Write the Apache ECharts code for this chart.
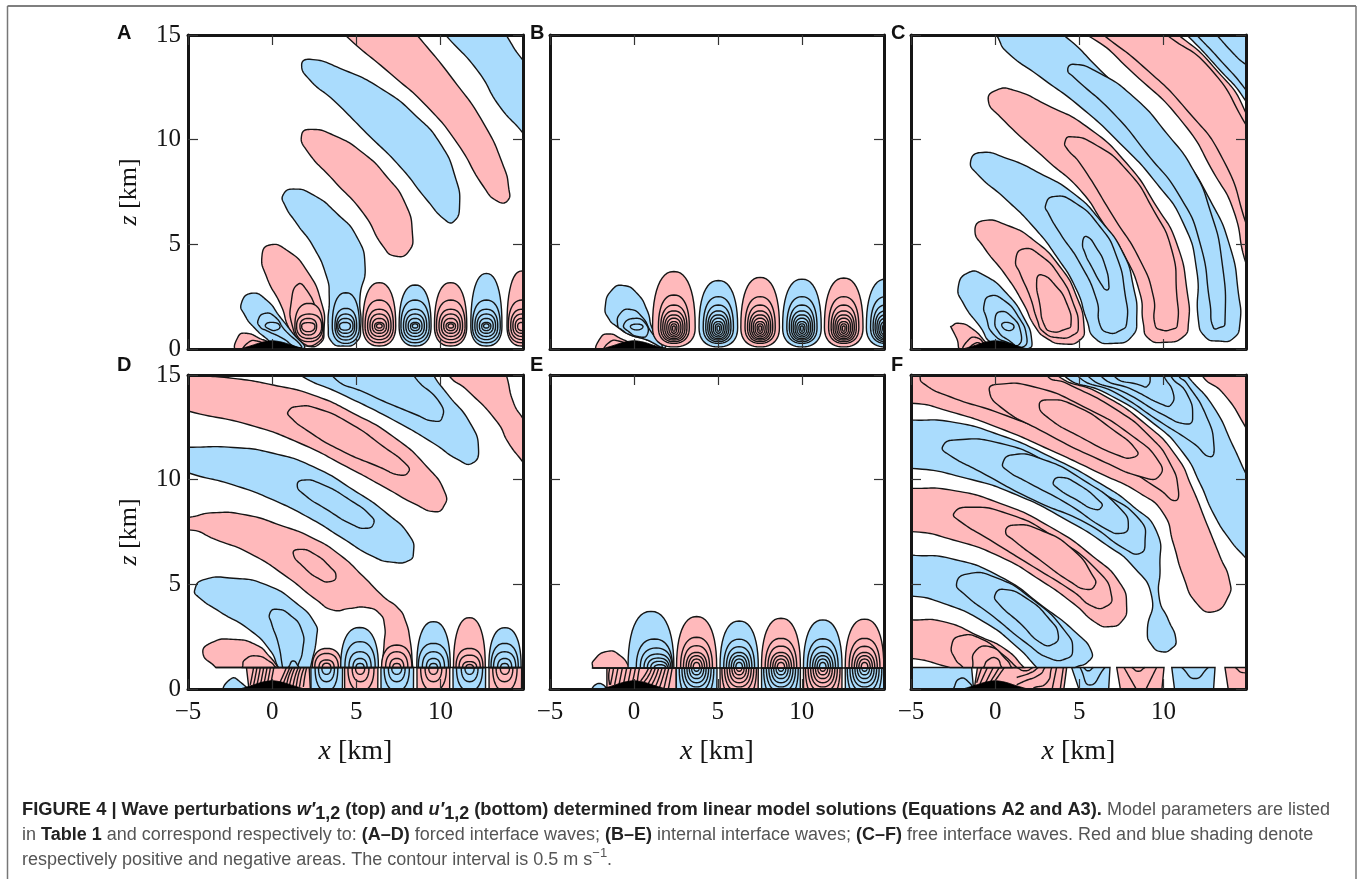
<!DOCTYPE html>
<html><head><meta charset="utf-8">
<style>html,body{margin:0;padding:0;background:#fff}#c{width:1360px;height:879px}</style>
<script src="https://cdn.jsdelivr.net/npm/echarts@6/dist/echarts.min.js"></script>
</head><body><div id="c"></div>
<script>
// ---- values (x km, z km); sign: 1 red, -1 blue, 0 line only
const xTicks = [-5, 0, 5, 10];
const zTicks = [0, 5, 10, 15];
const panelLetters = ['A','B','C','D','E','F'];
const terrain = [[-2.1,-.05],[-1.7,.05],[-1.2,.17],[-.7,.3],[-.3,.37],[0,.39],[.3,.37],[.7,.3],[1.2,.17],[1.7,.05],[2.1,-.05]];

// Panel A
const aFree = [
 [-1,[[9.3,16],[10.3,15],[12.2,13.3],[13.5,11.6],[15,10.2],[16,8.9],[17,12],[15,13.7],[13.9,15],[13,16.3]]],
 [1,[[3.5,15.8],[4.33,15],[7,13.17],[9.2,11.58],[11,9.82],[12.56,7.75],[13.4,7.05],[14,7.1],[14.05,7.7],[13.75,8.71],[12.56,10.78],[10.77,12.85],[8.6,15],[7.5,16]]],
 [-1,[[1.75,13.57],[2.24,13.84],[4.03,13.41],[6.61,12.37],[8.59,11.1],[9.98,9.82],[10.87,8.23],[11.13,6.8],[10.77,6.08],[10.28,6.16],[9.19,7.12],[7.6,8.71],[5.62,10.3],[3.63,11.89],[2.24,12.85]]],
 [1,[[1.75,10.22],[2.24,10.49],[3.63,10.22],[5.42,9.35],[6.81,8.23],[7.9,6.96],[8.33,5.53],[8.1,4.65],[7.3,4.44],[6.6,4.89],[5.42,6.48],[3.63,8.07],[2.04,9.5]]],
 [-1,[[.65,7.36],[1.25,7.64],[2.44,7.36],[3.83,6.48],[5.02,5.37],[5.52,3.93],[5.22,2.5],[5.26,1.07],[5.02,.35],[4.23,.14],[3.53,.35],[3.33,1.07],[3.39,2.5],[3.23,3.46],[2.44,4.89],[1.45,6],[.75,6.88]]],
 [1,[[-.6,4.49],[-.14,4.97],[.85,4.73],[2.04,3.77],[2.94,2.18],[3.08,.91],[2.84,.27],[2.04,.14],[1.45,.43],[.95,1.07],[.56,2.02],[-.34,3.46]]],
 [1,[[1.15,2.34],[1.55,3.1],[2.04,2.82],[2.64,1.86],[3.04,.91],[2.64,.27],[1.85,.27],[1.21,1.07]]],
 [-1,[[-1.83,2.18],[-1.23,2.66],[-.34,2.34],[.46,1.54],[1.15,.83],[1.88,.03],[.06,.27],[-.34,.5],[-1.03,.99],[-1.63,1.62]]],
 [-1,[[-.83,1.39],[-.44,1.7],[.16,1.54],[.75,.91],[1.75,.11],[1.35,.11],[.65,.5],[-.34,.88],[-.73,1.07]]],
 [-1,[[-.4,1.15],[.06,1.27],[.46,1.1],[.26,.91],[-.14,.94]]],
 [1,[[-2.08,-.1],[-2.02,.59],[-1.53,.75],[-.73,.5],[-.24,.27],[-.3,-.1]]],
 [1,[[-1.7,-.1],[-1.4,.32],[-.9,.38],[-.5,.18],[-.6,-.1]]]
];
const aLobes = [
 [1,1.35,3,.35,1.1,2.18],[1,1.45,2.94,.5,1.1,1.67],[1,1.65,2.64,.67,1.1,1.46],[1,1.75,2.54,.83,1.1,1.26],
 [-1,3.57,5.18,.27,1.1,2.69],[-1,3.73,5.02,.43,1.1,1.94],[-1,3.83,4.9,.58,1.1,1.67],[-1,3.9,4.8,.75,1.1,1.46],[-1,4,4.65,.9,1.1,1.27],
 [1,5.38,7.34,.14,1.1,3.17],[1,5.52,7.2,.3,1.1,2.34],[1,5.67,7.06,.45,1.1,1.9],[1,5.81,6.92,.6,1.1,1.67],[1,5.95,6.79,.75,1.1,1.46],[1,6.09,6.65,.88,1.1,1.27],[1,6.2,6.53,1,1.1,1.2],
 [-1,7.54,9.44,.14,1.1,3.06],[-1,7.65,9.33,.3,1.1,2.34],[-1,7.8,9.18,.45,1.1,1.9],[-1,7.94,9.04,.6,1.1,1.67],[-1,8.08,8.9,.75,1.1,1.46],[-1,8.22,8.76,.88,1.1,1.27],[-1,8.33,8.65,1,1.1,1.2],
 [1,9.64,11.56,.14,1.1,3.17],[1,9.76,11.46,.3,1.1,2.34],[1,9.91,11.31,.45,1.1,1.9],[1,10.05,11.17,.6,1.1,1.67],[1,10.19,11.03,.75,1.1,1.46],[1,10.33,10.89,.88,1.1,1.27],[1,10.45,10.77,1,1.1,1.2],
 [-1,11.8,13.65,.14,1.1,3.61],[-1,11.9,13.55,.3,1.1,2.34],[-1,12.04,13.4,.45,1.1,1.9],[-1,12.17,13.27,.6,1.1,1.67],[-1,12.31,13.13,.75,1.1,1.46],[-1,12.45,12.99,.88,1.1,1.27],[-1,12.56,12.88,1,1.1,1.2],
 [1,13.95,15.73,.14,1.1,3.73],[1,14.03,15.65,.3,1.1,2.34],[1,14.17,15.51,.45,1.1,1.9],[1,14.3,15.38,.6,1.1,1.67],[1,14.44,15.24,.75,1.1,1.46],[1,14.58,15.1,.88,1.1,1.27]
];

// Panel B
const bFree = [
 [-1,[[-1.71,2.02],[-1.31,2.82],[-.61,3.03],[.18,2.66],[.78,1.86],[1.14,.91],[1.88,.08],[.58,.5],[-.21,.67],[-1.01,1.07],[-1.51,1.46]]],
 [-1,[[-.97,1.15],[-.81,1.7],[-.21,1.89],[.48,1.54],[1.02,.83],[1.68,.11],[.78,.43],[-.21,.67],[-.71,.91]]],
 [-1,[[-.61,1.15],[-.01,1.46],[.68,1.23],[.78,.67],[.28,.59],[-.31,.83]]],
 [-1,[[-.21,1.07],[.18,1.19],[.54,1.07],[.18,.91]]],
 [1,[[-2.15,-.1],[-2.01,.51],[-1.51,.72],[-.81,.51],[-.21,.19],[-.3,-.1]]],
 [1,[[-1.75,-.1],[-1.41,.35],[-.91,.38],[-.51,.19],[-.6,-.1]]]
];
const bLobes = [
 [1,1.11,3.65,.1,1.03,3.7],[1,1.46,3.3,.27,1.03,2.58],[1,1.6,3.16,.35,1.03,2.1],[1,1.72,3.04,.43,1.03,1.82],[1,1.84,2.92,.5,1.03,1.63],[1,1.96,2.8,.58,1.03,1.47],[1,2.08,2.68,.66,1.03,1.31],[1,2.2,2.56,.75,1.03,1.2],[1,2.3,2.46,.85,1.03,1.1],
 [-1,3.88,6.18,.1,1.03,3.27],[-1,4.13,5.93,.27,1.03,2.5],[-1,4.28,5.78,.35,1.03,2.1],[-1,4.4,5.66,.43,1.03,1.82],[-1,4.51,5.55,.5,1.03,1.63],[-1,4.62,5.44,.58,1.03,1.47],[-1,4.73,5.33,.66,1.03,1.31],[-1,4.85,5.21,.75,1.03,1.2],[-1,4.95,5.11,.85,1.03,1.1],
 [1,6.37,8.67,.1,1.03,3.42],[1,6.62,8.42,.27,1.03,2.5],[1,6.77,8.27,.35,1.03,2.1],[1,6.89,8.15,.43,1.03,1.82],[1,7,8.04,.5,1.03,1.63],[1,7.11,7.93,.58,1.03,1.47],[1,7.22,7.82,.66,1.03,1.31],[1,7.34,7.7,.75,1.03,1.2],[1,7.44,7.6,.85,1.03,1.1],
 [-1,8.86,11.16,.1,1.03,3.34],[-1,9.11,10.91,.27,1.03,2.5],[-1,9.26,10.76,.35,1.03,2.1],[-1,9.38,10.64,.43,1.03,1.82],[-1,9.49,10.53,.5,1.03,1.63],[-1,9.6,10.42,.58,1.03,1.47],[-1,9.71,10.31,.66,1.03,1.31],[-1,9.83,10.19,.75,1.03,1.2],[-1,9.93,10.09,.85,1.03,1.1],
 [1,11.35,13.65,.1,1.03,3.39],[1,11.6,13.4,.27,1.03,2.5],[1,11.75,13.25,.35,1.03,2.1],[1,11.87,13.13,.43,1.03,1.82],[1,11.98,13.02,.5,1.03,1.63],[1,12.09,12.91,.58,1.03,1.47],[1,12.2,12.8,.66,1.03,1.31],[1,12.32,12.68,.75,1.03,1.2],[1,12.42,12.58,.85,1.03,1.1],
 [-1,13.85,16.15,.1,1.03,3.34],[-1,14.1,15.9,.27,1.03,2.5],[-1,14.25,15.75,.35,1.03,2.1],[-1,14.37,15.63,.43,1.03,1.82],[-1,14.48,15.52,.5,1.03,1.63],[-1,14.59,15.41,.58,1.03,1.47],[-1,14.7,15.3,.66,1.03,1.31],[-1,14.82,15.18,.75,1.03,1.2]
];

// Panel C
const cFree = [
 [1,[[3,15.6],[5.44,15],[8.21,13.17],[11.18,10.78],[13,8.39],[14.15,6.64],[14.9,4.09],[16,2],[17,6],[14.9,11.26],[12.96,13.49],[10.88,15],[9,16]]],
 [0,[[6.43,15],[8.8,13.49],[11.38,11.42],[13.55,9.03],[14.9,6],[15.6,4]]],
 [0,[[10.19,15],[12.76,13.41],[14.9,10.7],[16,9]]],
 [-1,[[10.5,15.6],[11.38,15],[13.16,13.49],[14.9,11.83],[16,10],[17,17]]],
 [0,[[11.97,15],[13.36,13.81],[14.9,12.37],[16,11]]],
 [0,[[13.16,15],[14.15,14.12],[14.74,13.68],[16,13]]],
 [-1,[[0,15.3],[.19,14.84],[.68,14.2],[2.66,13.01],[5.04,11.58],[7.42,9.82],[9.59,7.91],[11.18,6],[11.97,3.77],[12.07,1.39],[12.47,.59],[13.26,.38],[14.15,.51],[14.54,1.23],[14.45,2.66],[13.95,4.89],[12.76,7.12],[10.98,9.35],[8.6,11.42],[6.23,13.33],[4.05,15],[2,16]]],
 [-1,[[4.31,13.33],[4.64,13.6],[6.03,13.25],[8.21,12.05],[10.19,10.3],[11.77,8.55],[12.76,6.64],[13.46,4.25],[13.65,1.23],[13.36,1.03],[12.96,1.03],[12.76,2.18],[12.17,5.05],[10.98,7.28],[9,9.35],[7.02,11.26],[4.64,13.01]]],
 [1,[[-.41,11.89],[.09,12.37],[1.08,12.37],[3.06,11.66],[5.44,10.62],[7.81,8.87],[9.59,6.8],[10.78,5.05],[11.42,2.66],[11.48,1.23],[11.18,.59],[10.09,.32],[9.1,.51],[8.8,1.23],[8.6,2.66],[7.61,4.57],[6.43,6],[5.04,7.6],[3.06,9.03],[.29,11.1]]],
 [1,[[4.15,9.9],[4.45,10.14],[5.83,9.82],[7.81,8.55],[9.4,6.64],[10.49,4.73],[10.78,2.66],[10.82,1.15],[10.49,.94],[9.89,.91],[9.5,1.15],[9.4,2.5],[8.6,4.25],[7.02,6.32],[5.04,8.87],[4.25,9.59]]],
 [-1,[[-1.46,8.95],[-.9,9.38],[.68,9.11],[2.66,8.39],[4.64,7.44],[6.23,6.16],[7.61,4.57],[8.21,2.98],[8.41,1.54],[8.11,.59],[7.02,.27],[5.93,.51],[5.44,1.39],[4.84,2.82],[3.65,4.41],[2.27,5.84],[.68,7.12],[-1.1,8.39]]],
 [-1,[[3,6.88],[3.46,7.28],[4.64,7.04],[6.23,5.84],[7.22,4.41],[7.71,2.66],[7.81,1.23],[7.42,.88],[6.72,.78],[6.23,1.15],[6.03,2.34],[5.04,4.09],[3.85,5.53],[3.16,6.48]]],
 [-1,[[5.2,5.13],[5.44,5.37],[6.03,4.81],[6.52,4.01],[6.76,2.98],[6.62,2.82],[6.33,3.06],[5.73,3.93],[5.34,4.57]]],
 [1,[[-1.2,5.68],[-.7,6.13],[.68,5.92],[2.27,5.21],[3.85,3.93],[4.84,2.5],[5.28,1.07],[5.04,.43],[4.05,.24],[3.06,.51],[2.37,1.07],[1.67,2.18],[.68,3.46],[-.7,4.89]]],
 [1,[[1.22,4.25],[1.67,4.78],[2.66,4.49],[3.85,3.46],[4.64,2.18],[4.94,1.07],[4.64,.67],[3.75,.54],[2.86,.83],[2.5,1.39],[2.07,2.5],[1.48,3.61]]],
 [1,[[2.47,3.3],[2.76,3.54],[3.55,3.06],[4.25,2.18],[4.5,1.15],[4.15,.94],[3.36,.83],[2.92,1.15],[2.66,2.1]]],
 [-1,[[-2.19,2.98],[-1.59,3.65],[-.7,3.54],[.68,2.66],[1.77,1.39],[2.17,.43],[1.97,.03],[-.11,.27],[-.9,1.07],[-1.89,2.18]]],
 [-1,[[-.66,2.1],[-.31,2.53],[.49,2.34],[1.38,1.54],[1.87,.59],[1.67,.11],[.88,.27],[-.11,.72],[-.54,1.54]]],
 [-1,[[-.01,1.39],[.29,1.78],[.98,1.54],[1.51,.83],[1.38,.19],[.78,.43],[.19,.83]]],
 [-1,[[.39,1.15],[.72,1.27],[1.12,1.07],[.78,.88]]],
 [1,[[-2.64,1.07],[-2.64,1.07],[-2.19,1.23],[-1.4,.99],[-.5,.27],[-.1,-.1],[-1.95,-.1],[-2.29,.51]]],
 [1,[[-1.85,-.1],[-1.59,.43],[-1.1,.54],[-.6,.19],[-.4,-.1]]],
 [1,[[-1.55,-.1],[-1.2,.27],[-.8,.19],[-.8,-.1]]]
];

// Panel D
const dInterface = [[-3.35,1.03],[15.5,1.03]];
const dFree = [
 [1,[[-6,15.1],[-5,15],[-2.32,14.84],[.06,14.52],[2.44,14.04],[4.82,13.17],[7.2,12.05],[9.19,10.62],[10.28,9.35],[10.18,8.71],[9.68,8.47],[8.59,8.79],[6.61,9.67],[4.42,10.62],[1.65,11.74],[-1.33,12.61],[-5,13.28],[-6,13.6]]],
 [1,[[.95,13.25],[1.45,13.49],[2.64,13.41],[4.62,12.69],[6.61,11.58],[8,10.7],[8.1,10.38],[7.6,10.22],[6.41,10.59],[4.03,11.42],[2.04,12.37],[1.05,13.01]]],
 [-1,[[-5,11.55],[-2.32,11.54],[.06,11.26],[2.44,10.62],[4.82,9.51],[6.81,8.39],[8.19,7.28],[8.39,6.48],[8.1,6.13],[7.2,6.05],[6.01,6.32],[4.03,7.28],[2.44,8.07],[.06,9.03],[-2.32,9.75],[-5,10.33],[-6,10.7],[-6,11.55]]],
 [-1,[[1.49,9.75],[1.85,9.98],[2.84,9.82],[4.62,9.03],[5.91,8.23],[6.01,7.88],[5.62,7.68],[4.82,7.83],[3.23,8.58],[1.85,9.32]]],
 [1,[[-6,8.2],[-5,8.2],[-3.51,8.42],[-1.53,8.31],[.46,7.83],[2.44,7.2],[4.03,6.4],[5.42,5.37],[6.61,4.41],[7.5,3.85],[7.9,3.3],[8.19,2.34],[8.35,1.03],[8.35,1.03],[6.51,1.03],[6.51,1.03],[6.65,2.18],[6.67,3.06],[6.37,3.61],[5.62,3.89],[4.62,3.85],[3.63,3.77],[2.64,4.25],[.85,5.37],[-1.33,6.48],[-3.31,7.12],[-5,7.6],[-6,7.2]]],
 [1,[[1.25,6.48],[1.65,6.67],[2.44,6.48],[3.43,5.84],[3.79,5.37],[3.43,5.13],[2.84,5.24],[1.85,5.84]]],
 [1,[[10.48,15],[11.57,14.28],[13.35,12.77],[14.05,11.74],[14.94,10.78],[16,9.5],[16,11.2],[14.94,12.85],[14.35,13.65],[13.91,15],[13.5,16],[10,16]]],
 [-1,[[1,15.6],[1.65,15],[4.03,14.12],[7.2,12.85],[9.58,11.74],[11.07,10.94],[11.87,10.78],[12.26,11.42],[11.77,12.69],[10.38,14.12],[9.58,15],[9,16],[2,16]]],
 [-1,[[3.5,16],[3.53,15],[5.62,14.12],[8.59,13.09],[9.58,12.8],[10.08,12.93],[9.98,13.65],[8.39,15],[8,16]]],
 [-1,[[-4.6,4.73],[-4.11,5.21],[-2.32,5.29],[-.34,4.97],[1.45,4.09],[2.54,3.14],[2.64,2.5],[2.28,1.03],[2.28,1.03],[.36,1.03],[.36,1.03],[-.14,1.86],[-1.33,2.82],[-3.11,3.69],[-4.4,4.41]]],
 [-1,[[-.14,3.61],[.26,3.81],[1.05,3.54],[1.75,2.82],[1.81,1.86],[1.49,1.03],[1.49,1.03],[.62,1.03],[.62,1.03],[.36,2.18],[-.04,3.14]]],
 [-1,[[.96,1.03],[.96,1.03],[1.25,1.34],[1.61,1.03],[1.61,1.03]]],
 [1,[[-4.11,1.7],[-3.61,2.21],[-2.32,2.37],[-.93,2.1],[-.14,1.54],[.36,1.03],[.36,1.03],[-3.35,1.03],[-3.35,1.03]]],
 [1,[[-1.77,1.03],[-1.77,1.03],[-1.63,1.39],[-.93,1.58],[-.14,1.31],[.22,1.03],[.22,1.03]]],
 [-1,[[-2.85,-.1],[-2.42,.5],[-1.92,.35],[-1.5,-.1]]]
];
const dStraight = [
 [1,[[-1.53,1.03],[2.2,1.03],[2.28,-.2],[-1.35,-.2]]]
];
const dLines = [
 dInterface,
 [[-1.1,1.03],[-1.2,.6],[-1.3,.2]],[[-.9,1.03],[-1,.6],[-1.1,.2]],[[-.7,1.03],[-.8,.6],[-.9,.2]],[[-.5,1.03],[-.6,.6],[-.7,.2]],[[-.3,1.03],[-.4,.6],[-.5,.2]],[[-.1,1.03],[-.2,.6],[-.3,.2]],[[.1,1.03],[0,.6],[-.1,.2]],
 [[.85,1.03],[.65,.65],[.45,.3]],[[1.05,1.03],[.85,.65],[.65,.25]],[[1.2,1.03],[1,.65],[.85,.2]],[[1.35,1.03],[1.18,.65],[1,.1]],[[1.55,1.03],[1.38,.65],[1.22,.1]],[[1.7,1.03],[1.55,.65],[1.42,.1]],[[1.9,1.03],[1.75,.65],[1.62,.1]],[[2.05,1.03],[1.95,.65],[1.85,.1]]
];
const dHalves = [
 [-1,2.3,4.18,1.03,-5],[-1,2.55,3.9,1.03,-.1],[-1,2.75,3.7,1.03,.35],[-1,2.95,3.5,1.03,.7],
 [1,4.3,6.28,1.03,-5],[1,4.5,6.05,1.03,-.1],[1,4.75,5.75,1.03,.35],[1,4.95,5.5,1.03,.7],
 [-1,6.46,8.4,1.03,-5],[-1,6.65,8.15,1.03,-.1],[-1,6.9,7.9,1.03,.35],[-1,7.1,7.7,1.03,.7],
 [1,8.6,10.55,1.03,-5],[1,8.82,10.35,1.03,-.1],[1,9.08,10.08,1.03,.35],[1,9.3,9.85,1.03,.7],
 [-1,10.74,12.68,1.03,-5],[-1,10.95,12.5,1.03,-.1],[-1,11.23,12.23,1.03,.35],[-1,11.45,12,1.03,.7],
 [1,12.88,14.82,1.03,-5],[1,13.1,14.55,1.03,-.1],[1,13.3,14.3,1.03,.35],[1,13.55,14.1,1.03,.7],
 [1,2.38,4.13,1.03,1.94],[1,2.53,3.93,1.03,1.7],[1,2.78,3.68,1.03,1.39],[1,2.98,3.48,1.03,1.23],
 [-1,4.07,6.31,1.03,2.94],[-1,4.32,6.12,1.03,2.26],[-1,4.56,5.88,1.03,1.78],[-1,4.8,5.64,1.03,1.46],[-1,4.98,5.46,1.03,1.22],
 [1,6.5,8.3,1.03,2.1],[1,6.74,8.06,1.03,1.78],[1,6.98,7.82,1.03,1.46],[1,7.16,7.64,1.03,1.22],
 [-1,8.59,10.58,1.03,3.22],[-1,8.68,10.48,1.03,2.18],[-1,8.92,10.24,1.03,1.78],[-1,9.16,10,1.03,1.46],[-1,9.34,9.82,1.03,1.22],
 [1,10.77,12.66,1.03,3.41],[1,10.92,12.52,1.03,1.94],[1,11.1,12.36,1.03,1.62],[1,11.31,12.15,1.03,1.31],[1,11.51,11.95,1.03,1.17],
 [-1,12.87,14.79,1.03,2.93],[-1,13,14.62,1.03,2.18],[-1,13.15,14.47,1.03,1.78],[-1,13.39,14.23,1.03,1.46],[-1,13.57,14.05,1.03,1.22]
];

// Panel E
const eFree = [
 [1,[[-2.47,1],[-2.47,1],[-2.41,1.35],[-1.57,1.8],[-.81,1.59],[-.21,1],[-.21,1]]],
 [-1,[[-2.5,-.1],[-2.07,.27],[-1.62,-.1]]]
];
const eStraight = [
 [1,[[-1.61,1],[2.52,1],[2.52,-.2],[-1.61,-.2]]]
];
const eInterface = [[-2.47,1],[15.5,1]];
const eLines = [
 eInterface,
 [[-1.45,1],[-1.5,.6],[-1.45,.2]],[[-1.21,1],[-1.3,.6],[-1.4,.2]],[[-.95,1],[-1.05,.6],[-1.15,.2]],[[-.69,1],[-.79,.6],[-.89,.2]],[[-.43,1],[-.53,.6],[-.63,.2]],[[-.17,1],[-.27,.6],[-.37,.2]],[[.09,1],[-.01,.6],[-.11,.25]],[[.33,1],[.26,.7],[.2,.35]],
 [[.88,1],[.68,.7],[.4,.38]],[[1.08,1],[.88,.65],[.6,.32]],[[1.28,1],[1.08,.6],[.85,.25]],[[1.48,1],[1.28,.55],[1.05,.18]],[[1.68,1],[1.5,.55],[1.28,.1]],[[1.88,1],[1.72,.55],[1.52,.05]],[[2.08,1],[1.94,.55],[1.78,0]],[[2.28,1],[2.18,.55],[2.05,0]]
];
const eHalves = [
 [-1,2.52,4.95,1,-5],[-1,2.7,4.76,1,-.6],[-1,2.86,4.6,1,-.15],[-1,3.01,4.45,1,.1],[-1,3.16,4.3,1,.3],[-1,3.3,4.16,1,.5],[-1,3.44,4.02,1,.68],[-1,3.58,3.88,1,.85],
 [1,5.13,7.41,1,-5],[1,5.24,7.3,1,-.6],[1,5.4,7.14,1,-.15],[1,5.55,6.99,1,.1],[1,5.7,6.84,1,.3],[1,5.84,6.7,1,.5],[1,5.98,6.56,1,.68],[1,6.12,6.42,1,.85],
 [-1,7.6,9.92,1,-5],[-1,7.73,9.79,1,-.6],[-1,7.89,9.63,1,-.15],[-1,8.04,9.48,1,.1],[-1,8.19,9.33,1,.3],[-1,8.33,9.19,1,.5],[-1,8.47,9.05,1,.68],[-1,8.61,8.91,1,.85],
 [1,10.1,12.4,1,-5],[1,10.22,12.28,1,-.6],[1,10.38,12.12,1,-.15],[1,10.53,11.97,1,.1],[1,10.68,11.82,1,.3],[1,10.82,11.68,1,.5],[1,10.96,11.54,1,.68],[1,11.1,11.4,1,.85],
 [-1,12.59,14.89,1,-5],[-1,12.71,14.77,1,-.6],[-1,12.87,14.61,1,-.15],[-1,13.02,14.46,1,.1],[-1,13.17,14.31,1,.3],[-1,13.31,14.17,1,.5],[-1,13.45,14.03,1,.68],[-1,13.59,13.89,1,.85],
 [-1,-.35,2.38,1,3.71],[-1,.14,2.3,1,2.39],[-1,.38,2.28,1,1.96],[-1,.6,2.2,1,1.67],[-1,.8,2.1,1,1.48],[-1,1,2,1,1.32],[-1,1.2,1.9,1,1.16],
 [1,2.54,4.93,1,3.46],[1,2.78,4.68,1,2.47],[1,2.95,4.51,1,2.07],[1,3.11,4.35,1,1.75],[1,3.25,4.21,1,1.59],[1,3.39,4.07,1,1.43],[1,3.53,3.93,1,1.27],
 [-1,5.13,7.41,1,3.25],[-1,5.35,7.19,1,2.38],[-1,5.51,7.03,1,2.02],[-1,5.66,6.88,1,1.75],[-1,5.8,6.74,1,1.59],[-1,5.93,6.61,1,1.43],[-1,6.07,6.47,1,1.27],
 [1,7.6,9.92,1,3.38],[1,7.82,9.7,1,2.42],[1,7.98,9.54,1,2.05],[1,8.13,9.39,1,1.75],[1,8.27,9.25,1,1.59],[1,8.4,9.12,1,1.43],[1,8.54,8.98,1,1.27],
 [-1,10.1,12.4,1,3.3],[-1,10.33,12.17,1,2.4],[-1,10.49,12.01,1,2.03],[-1,10.64,11.86,1,1.75],[-1,10.78,11.72,1,1.59],[-1,10.91,11.59,1,1.43],[-1,11.05,11.45,1,1.27],
 [1,12.59,14.89,1,3.34],[1,12.82,14.66,1,2.42],[1,12.98,14.5,1,2.04],[1,13.13,14.35,1,1.75],[1,13.27,14.21,1,1.59],[1,13.4,14.08,1,1.43],[1,13.54,13.94,1,1.27]
];

// Panel F
const fFree = [
 [-1,[[10.5,16],[11.38,15],[12.96,13.49],[14.15,11.58],[14.9,10.27],[16,8.5],[16,5.2],[14.9,6.24],[13.95,7.12],[12.96,8.39],[12.17,9.82],[11.18,11.26],[9.4,12.69],[6.62,14.12],[4.05,15],[4,16]]],
 [-1,[[4.84,15],[7.22,14.12],[9.79,12.77],[11.77,11.74],[12.76,11.1],[13,11.58],[12.56,13.01],[11.38,14.6],[10.88,15],[10.5,16],[4.8,16]]],
 [-1,[[5.44,15],[7.81,14.12],[10,13.09],[11.38,12.66],[11.73,12.93],[11.38,14.12],[10.39,15],[10,16],[5.4,16]]],
 [-1,[[6.23,15],[8.21,14.28],[9.99,13.57],[10.43,13.57],[10.58,14.12],[9.99,15],[9.5,16],[6.2,16]]],
 [-1,[[7.02,15],[8.6,14.52],[9.04,14.47],[9.2,15],[9,16],[7,16]]],
 [1,[[12.27,15],[13.55,14.12],[14.84,12.56],[16,10.8],[16,16],[12,16]]],
 [1,[[-6,13.4],[-5,13.65],[-2.68,13.25],[.29,12.45],[3.26,11.42],[6.23,10.3],[8.6,9.35],[9.99,8.39],[10.58,6.96],[11.18,5.37],[11.97,4.09],[12.96,3.69],[13.85,4.41],[13.91,5.21],[13.36,6.32],[12.56,7.91],[11.67,9.67],[10.78,11.1],[9,12.61],[6.23,14.12],[3.65,15],[3,16],[3,16],[-6,16],[-6,16]]],
 [1,[[-4.5,16],[-4.47,15],[-4.27,14.6],[-2.68,13.96],[.29,13.17],[4.25,11.89],[7.22,10.78],[9.79,9.51],[10.68,9],[10.88,9.51],[10.39,10.78],[9.2,12.05],[7.22,13.33],[4.25,14.6],[3.06,15],[3,16]]],
 [1,[[-.35,14.28],[.09,14.55],[2.27,14.44],[5.24,13.49],[8.21,12.05],[9.79,10.78],[9.75,10.18],[9,10.06],[6.23,10.94],[2.66,12.37],[.29,13.49]]],
 [1,[[2.62,13.57],[3.06,13.81],[4.64,13.57],[7.02,12.37],[8.45,11.34],[8.21,11.07],[7.42,11.13],[5.04,12.05],[3.06,13.01]]],
 [-1,[[-6,12.9],[-5,12.85],[-2.68,12.77],[.29,12.13],[3.26,11.1],[6.23,9.82],[8.21,8.71],[9.59,7.52],[9.79,5.84],[9.75,4.33],[10.29,3.3],[10.74,2.34],[10.49,1.94],[9.89,1.78],[9.3,2.1],[9.04,2.74],[9.3,4.41],[8.21,5.84],[6.62,6.88],[4.25,8.07],[1.28,9.27],[-1.69,10.06],[-5,10.54],[-6,10.3]]],
 [-1,[[-3.12,11.58],[-2.49,11.89],[.29,11.74],[3.26,10.78],[6.23,9.43],[8.6,8.07],[8.9,6.96],[8.6,6.48],[7.81,6.64],[5.44,7.91],[2.27,9.03],[-.9,10.38],[-2.88,11.26]]],
 [-1,[[.45,10.78],[.98,11.18],[2.66,11.02],[5.24,9.98],[7.51,8.55],[7.91,7.75],[7.51,7.44],[6.62,7.63],[4.25,8.87],[1.87,9.9],[.68,10.46]]],
 [-1,[[3.46,9.9],[3.85,10.11],[4.84,9.82],[6.23,8.95],[6.33,8.71],[5.93,8.58],[4.84,9.03],[3.65,9.63]]],
 [1,[[-6,9.6],[-5,9.59],[-2.68,9.51],[.29,8.87],[3.26,7.75],[5.83,6.32],[7.42,5.05],[7.81,3.93],[7.51,3.22],[6.82,2.98],[6.03,3.14],[4.64,4.09],[2.66,5.21],[.29,6.32],[-2.49,7.12],[-5,7.52],[-6,7.3]]],
 [1,[[-2.45,8.39],[-1.69,8.68],[.68,8.39],[3.46,7.28],[6.23,5.53],[6.92,4.41],[6.62,3.96],[5.83,3.93],[4.64,4.65],[2.27,5.84],[-.31,7.12],[-2.19,8.07]]],
 [1,[[.62,7.52],[1.08,7.83],[2.66,7.6],[4.64,6.64],[5.83,5.37],[5.93,4.97],[5.44,4.76],[4.45,5.13],[2.66,6.16],[1.08,7.12]]],
 [-1,[[-6,6.5],[-5,6.4],[-2.68,6.24],[.29,5.37],[2.86,3.93],[4.84,2.66],[5.73,1.78],[5.53,1.31],[4.74,1.03],[4.74,1.03],[2.47,1.03],[2.47,1.03],[1.28,2.02],[-.7,3.22],[-3.08,4.09],[-5,4.44],[-6,4.3]]],
 [-1,[[-2.29,5.05],[-1.69,5.49],[-.11,5.37],[2.27,4.25],[4.25,2.66],[4.6,1.86],[4.25,1.46],[3.26,1.46],[1.87,2.18],[-.11,3.46],[-1.89,4.57]]],
 [-1,[[-.01,4.49],[.49,4.76],[1.87,4.33],[3.26,3.3],[3.75,2.58],[3.46,2.15],[2.76,2.18],[1.48,3.14],[.19,4.09]]],
 [1,[[-6,3.3],[-5,3.3],[-3.08,3.22],[-.9,2.5],[.68,1.86],[1.71,1.03],[1.71,1.03],[-2.68,1.03],[-2.68,1.03],[-5,1.46],[-6,1.3]]],
 [1,[[-2.58,2.1],[-2.09,2.53],[-.9,2.42],[.49,1.62],[1.28,1.03],[1.28,1.03],[-1.9,1.03],[-1.9,1.03],[-2.39,1.46]]],
 [1,[[-1.34,1.03],[-1.34,1.03],[-1.2,1.78],[-.31,2.02],[.68,1.39],[.98,1.03],[.98,1.03]]],
 [1,[[-.7,1.03],[-.7,1.03],[-.41,1.39],[.09,1.46],[.39,1.03],[.39,1.03]]]
];
const fStraight = [
 [-1,[[-6,1.03],[-1.4,1.03],[-1.25,-.3],[-6,-.3]]],
 [1,[[-1.05,1.03],[4.25,1.03],[4.03,-.3],[-1.3,-.3]]],
 [-1,[[4.54,1.03],[6.82,1.03],[6.72,-.3],[5.1,-.3]]],
 [1,[[7.22,1.03],[10.03,1.03],[9.87,-.3],[7.5,-.3]]],
 [-1,[[10.49,1.03],[13.06,1.03],[12.95,-.3],[10.7,-.3]]],
 [1,[[13.65,1.03],[16,1.03],[16,-.3],[13.9,-.3]]]
];
const fLines = [
 [[5.04,1.03],[5.63,.19],[6.52,1.03]],[[5.24,1.03],[5.53,.87],[5.83,1.03]],
 [[7.65,1.03],[8.45,-.1]],[[9.59,1.03],[8.9,-.1]],[[8.11,1.03],[8.5,.85],[8.9,1.03]],
 [[11.08,1.03],[11.87,.5],[12.66,1.03]],[[14.25,1.03],[14.74,.78],[16,.9]],
 [[-2.55,-.1],[-2.09,.5],[-1.5,.27],[-1.3,-.1]],
 [[-.8,1.03],[-1.1,.3]],[[-.46,1.03],[-.9,.25]],[[-.11,1.03],[-.6,.25]],[[.25,1.03],[-.31,.3]],[[.55,1.03],[0,.4]],
 [[4.05,1.03],[3.85,-.1]],[[3.65,1.03],[3.36,-.1]],[[3.36,1.03],[3.06,.3],[2.27,.05]],[[2.96,1.03],[2.66,.7],[1.67,.35],[1.28,.2]],[[2.56,1.03],[2.17,.8],[1.28,.55]],[[1.28,1.03],[1.77,.87],[2.27,1.03]]
];

// Caption text
const captionLine1 = '{b|FIGURE 4 | Wave perturbations }{bi|w′}{bs|1,2}{b| (top) and }{bi|u′}{bs|1,2}{b| (bottom) determined from linear model solutions (Equations A2 and A3).}{n| Model parameters are listed}';
const captionLine2 = '{n|in }{b2|Table 1}{n| and correspond respectively to: }{b2|(A–D)}{n| forced interface waves; }{b2|(B–E)}{n| internal interface waves; }{b2|(C–F)}{n| free interface waves. Red and blue shading denote}';
const captionLine3 = '{n|respectively positive and negative areas. The contour interval is 0.5 m s}{sup|−1}{n|.}';

// ---- drawing
const RED = '#ffb9bb', BLUE = '#aadcfd', INK = '#151515', SERIF = '"Liberation Serif","DejaVu Serif",serif', SANS = '"Liberation Sans",Arial,sans-serif';
const fillOf = s => s > 0 ? RED : s < 0 ? BLUE : 'none';
const EXP = .86, TENSION = .55;
const ringPts = r => { const [,xl,xr,zb,zm,zt] = r, xc=(xl+xr)/2, rx=(xr-xl)/2, out=[];
  for (let i=0;i<48;i++){const t=i/48*2*Math.PI,s=Math.sin(t),c=Math.cos(t);
    out.push([xc+rx*Math.sign(c)*Math.pow(Math.abs(c),EXP), zm+(s>0?zt-zm:zm-zb)*Math.sign(s)*Math.pow(Math.abs(s),EXP)]);}
  return out; };
const halfPts = r => { const [,xl,xr,z0,ze] = r, xc=(xl+xr)/2, rx=(xr-xl)/2, out=[];
  for (let i=0;i<=24;i++){const t=i/24*Math.PI,s=Math.sin(t),c=Math.cos(t);
    out.push([xc-rx*Math.sign(c)*Math.pow(Math.abs(c),EXP), z0+(ze-z0)*Math.pow(s,EXP)]);}
  return out; };
// curve through the screen points returned by the axes; a repeated point stays a sharp corner
function curve(P, closed){
  const n=P.length, out=[], d=(a,b)=>Math.hypot(a[0]-b[0],a[1]-b[1]);
  const ctrl=P.map((p,i)=>{
    const a=closed?P[(i-1+n)%n]:P[Math.max(i-1,0)], b=closed?P[(i+1)%n]:P[Math.min(i+1,n-1)];
    let d0=d(p,a), d1=d(p,b); const sum=d0+d1||1; d0/=sum; d1/=sum;
    const vx=(b[0]-a[0])*TENSION, vy=(b[1]-a[1])*TENSION;
    return [[p[0]-vx*d0,p[1]-vy*d0],[p[0]+vx*d1,p[1]+vy*d1]];
  });
  const segs=closed?n:n-1;
  for(let i=0;i<segs;i++){
    const p0=P[i],p3=P[(i+1)%n],c1=ctrl[i][1],c2=ctrl[(i+1)%n][0];
    for(let k=0;k<14;k++){const t=k/14,u=1-t;
      out.push([u*u*u*p0[0]+3*u*u*t*c1[0]+3*u*t*t*c2[0]+t*t*t*p3[0],
                u*u*u*p0[1]+3*u*u*t*c1[1]+3*u*t*t*c2[1]+t*t*t*p3[1]]);}
  }
  if(!closed) out.push(P[n-1]);
  return out;
}
function shapesFor(p){
  const out=[];
  (p.straight||[]).forEach(([s,pts])=>out.push({k:'poly',s,pts,sm:false}));
  (p.free||[]).forEach(([s,pts])=>out.push({k:s===0?'line':'poly',s,pts,sm:true}));
  (p.lobes||[]).forEach(r=>out.push({k:'poly',s:r[0],pts:ringPts(r),sm:false}));
  (p.halves||[]).forEach(r=>out.push({k:'poly',s:r[0],pts:halfPts(r),sm:false}));
  (p.lines||[]).forEach(pts=>out.push({k:'line',s:0,pts,sm:true}));
  out.push({k:'poly',s:9,pts:terrain,sm:true});
  return out;
}
const panels = [
 {left:188,top:35,width:335,free:aFree,lobes:aLobes,yl:true,xl:false},
 {left:550,top:35,width:334,free:bFree,lobes:bLobes,yl:false,xl:false},
 {left:911,top:35,width:335,free:cFree,yl:false,xl:false},
 {left:188,top:375,width:335,free:dFree,straight:dStraight,halves:dHalves,lines:dLines,yl:true,xl:true},
 {left:550,top:375,width:334,free:eFree,straight:eStraight,halves:eHalves,lines:eLines,yl:false,xl:true},
 {left:911,top:375,width:335,free:fFree,straight:fStraight,lines:fLines,yl:false,xl:true}
];
const fmt = v => String(v).replace('-','−');
const line = {show:true,onZero:false,lineStyle:{color:INK,width:3}};
const tick = {show:true,inside:true,length:10,lineStyle:{color:'#333',width:1.2}};
const nameStyle = s => ({color:INK,fontFamily:SERIF,fontSize:s,rich:{i:{fontStyle:'italic',fontFamily:SERIF,fontSize:s,color:INK}}});
const grid=[],xAxis=[],yAxis=[],series=[];
panels.forEach((p,i)=>{
  grid.push({left:p.left,top:p.top,width:p.width,height:314,show:false});
  const xa={type:'value',gridIndex:i,min:xTicks[0],max:14.9,interval:5,splitLine:{show:false},axisLine:line,axisTick:{...tick,customValues:xTicks},z:10};
  const ya={type:'value',gridIndex:i,min:zTicks[0],max:zTicks[3],interval:5,splitLine:{show:false},axisLine:line,axisTick:tick,z:10};
  xAxis.push({...xa,position:'bottom',axisLabel:{show:p.xl,customValues:xTicks,margin:11,formatter:fmt,color:INK,fontFamily:SERIF,fontSize:25},
     ...(p.xl?{name:'{i|x} [km]',nameLocation:'middle',nameGap:49,nameTextStyle:nameStyle(28)}:{})});
  xAxis.push({...xa,position:'top',axisLabel:{show:false}});
  yAxis.push({...ya,position:'left',axisLabel:{show:p.yl,margin:7,color:INK,fontFamily:SERIF,fontSize:25},
     ...(p.yl?{name:'{i|z} [km]',nameLocation:'middle',nameGap:46,nameTextStyle:nameStyle(26)}:{})});
  yAxis.push({...ya,position:'right',axisLabel:{show:false}});
  const shapes=shapesFor(p);
  series.push({type:'custom',coordinateSystem:'cartesian2d',xAxisIndex:i*2,yAxisIndex:i*2,clip:true,silent:true,animation:false,z:3,
    data:shapes.map(s=>[s.pts[0][0],s.pts[0][1]]),encode:{x:0,y:1},
    renderItem:(params,api)=>{
      const s=shapes[params.dataIndex];
      let points=s.pts.map(q=>api.coord(q));
      if(s.sm) points=curve(points,s.k!=='line');
      const style=s.s===9?{fill:'#000',stroke:'#000',lineWidth:1}:{fill:s.k==='line'?'none':fillOf(s.s),stroke:INK,lineWidth:1.4};
      return {type:s.k==='line'?'polyline':'polygon',z2:params.dataIndex,shape:{points},style};
    }});
});
const letters=[[117,33.5],[530,33.5],[891,33.5],[117,365],[530,365],[891,365]];
const graphic=[
 {type:'line',shape:{x1:7.5,y1:6,x2:1356,y2:6},style:{stroke:'#555',lineWidth:1.5}},
 {type:'line',shape:{x1:7.5,y1:6,x2:7.5,y2:879},style:{stroke:'#777',lineWidth:1.5}},
 {type:'line',shape:{x1:1356,y1:6,x2:1356,y2:879},style:{stroke:'#777',lineWidth:1.5}}
];
panelLetters.forEach((t,i)=>graphic.push({type:'text',x:letters[i][0],y:letters[i][1],style:{text:t,fill:'#111',font:'bold 20px '+SANS,textVerticalAlign:'middle'}}));
const capRich={
  b:{fontFamily:SANS,fontWeight:'bold',fontSize:18.3,fill:'#222',lineHeight:26},
  b2:{fontFamily:SANS,fontWeight:'bold',fontSize:18,fill:'#222',lineHeight:26},
  bi:{fontFamily:SANS,fontWeight:'bold',fontStyle:'italic',fontSize:18.3,fill:'#222',lineHeight:26},
  n:{fontFamily:SANS,fontSize:18,fill:'#555',lineHeight:26},
  bs:{fontFamily:SANS,fontWeight:'bold',fontSize:18,fill:'#222',lineHeight:17,verticalAlign:'bottom'},
  sup:{fontFamily:SANS,fontSize:13,fill:'#555',lineHeight:13,verticalAlign:'top'}
};
[[captionLine1,810],[captionLine2,835],[captionLine3,860]].forEach(([t,y])=>graphic.push({type:'text',x:22,y,style:{text:t,rich:capRich,textVerticalAlign:'middle',font:'18px '+SANS}}));
const chart=echarts.init(document.getElementById('c'),null,{renderer:'canvas'});
chart.setOption({animation:false,backgroundColor:'#fff',grid,xAxis,yAxis,series,graphic});
</script></body></html>
